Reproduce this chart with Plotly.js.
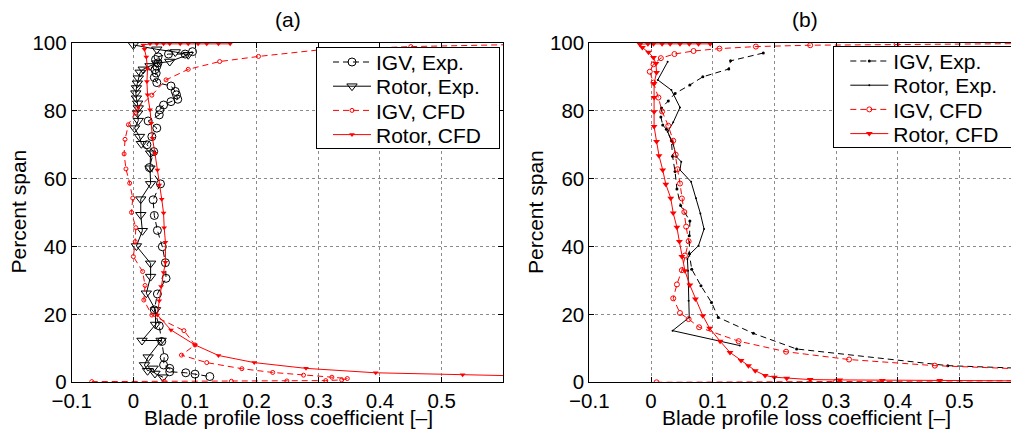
<!DOCTYPE html>
<html>
<head>
<meta charset="utf-8">
<script src="https://cdn.plot.ly/plotly-3.0.1.min.js"></script>
<style>html,body{margin:0;padding:0;background:#fff;}#chart{width:1011px;height:430px;}</style>
</head>
<body>
<div id="chart"></div>
<script>
// ---------- Panel (a) ----------
const a_igvExp_x = [0.096,0.084,0.057,0.040,0.036,0.040,0.038,0.035,0.037,0.034,0.038,0.061,0.068,0.070,0.072,0.061,0.049,0.043,0.042,0.024,0.038,0.030,0.022,0.033,0.026,0.044,0.032,0.034,0.039,0.047,0.052,0.053,0.039,0.034,0.042,0.046,0.050,0.049,0.059,0.059,0.085,0.100,0.124];
const a_igvExp_y = [97.3,96.6,96.6,95.8,95.0,94.0,93.0,92.0,91.0,89.7,88.2,87.2,85.6,84.6,83.3,82.6,81.6,80.2,78.7,76.9,74.8,72.3,69.9,67.9,63.2,58.4,53.7,49.1,44.7,39.9,35.2,30.6,26.0,21.3,16.6,12.0,7.3,5.1,4.1,3.1,2.8,2.4,1.7];

const a_rotExp_x = [0.000,0.038,0.068,0.089,0.059,0.038,0.027,0.016,0.011,0.008,0.0065,0.005,0.004,0.005,0.007,0.008,0.007,0.008,0.002,0.010,0.013,0.028,0.027,0.028,0.012,0.012,0.0146,0.005,0.028,0.028,0.021,0.036,0.036,0.014,0.045,0.024,0.018,0.023,0.032,0.035,0.048];
const a_rotExp_y = [99.3,98.0,97.2,96.4,94.4,93.9,93.1,92.1,91.2,89.5,88.0,86.6,85.1,83.6,82.1,80.7,79.2,77.0,74.8,72.3,70.2,67.4,63.0,58.4,53.9,49.3,44.6,40.1,35.0,31.1,26.2,21.3,17.0,12.3,12.3,7.4,5.1,3.4,4.1,2.6,1.5];

const a_igvCfd_x = [-0.0675,0.050,0.159,0.249,0.312,0.338,0.347,0.322,0.276,0.226,0.176,0.119,0.078,0.100,0.082,0.030,0.017,0.019,0.015,0.000,0.003,0.004,-0.003,-0.001,-0.006,-0.012,-0.015,-0.0135,-0.008,0.003,0.007,0.030,0.053,0.089,0.140,0.203,0.300,0.450,0.620];
const a_igvCfd_y = [0.2,0.3,0.3,0.4,0.5,0.7,1.1,1.5,2.1,2.9,4.0,5.8,8.0,11.0,15.2,19.8,24.2,28.5,32.6,37.0,41.4,45.5,50.0,54.2,58.6,62.8,67.2,71.5,75.8,79.2,80.7,84.5,89.0,92.1,94.4,95.9,97.8,98.8,99.4];

const a_rotCfd_x = [0.620,0.534,0.393,0.280,0.196,0.138,0.100,0.061,0.039,0.042,0.045,0.049,0.052,0.052,0.050,0.049,0.046,0.042,0.039,0.035,0.031,0.029,0.027,0.023,0.022,0.023,0.021,0.018,0.016,0.027,0.038,0.049,0.059,0.076,0.089,0.105,0.119,0.138,0.157];
const a_rotCfd_y = [1.9,2.2,2.8,4.1,5.8,7.9,11.0,15.4,19.8,24.0,28.2,32.3,35.3,41.2,45.5,49.8,53.9,58.1,62.5,67.4,71.8,76.2,80.2,84.6,88.5,92.2,95.7,98.0,99.3,99.6,99.6,99.6,99.6,99.6,99.6,99.6,99.6,99.6,99.6];

// ---------- Panel (b) ----------
const b_igvExp_x = [0.182,0.129,0.126,0.084,0.063,0.039,0.028,0.017,0.016,0.019,0.025,0.033,0.035,0.039,0.042,0.048,0.063,0.062,0.062,0.066,0.081,0.098,0.109,0.166,0.236,0.481,0.620];
const b_igvExp_y = [96.9,94.6,92.2,89.9,87.5,85.0,82.8,80.7,78.1,75.7,74.5,71.1,66.5,62.0,56.9,52.0,47.5,43.1,37.9,33.3,28.4,23.5,19.1,14.4,9.8,4.9,4.0];

const b_rotExp_x = [0.027,0.011,0.033,0.047,0.036,0.027,0.036,0.041,0.049,0.047,0.065,0.073,0.080,0.086,0.077,0.063,0.059,0.060,0.061,0.062,0.035,0.144];
const b_rotExp_y = [94.3,89.0,86.0,80.9,76.5,73.7,70.1,66.4,64.9,62.5,59.0,54.2,49.7,45.1,40.2,37.7,36.3,32.8,24.0,19.1,15.2,10.8];

const b_igvCfd_x = [0.009,0.300,0.650,0.650,0.460,0.321,0.219,0.142,0.078,0.061,0.047,0.036,0.042,0.050,0.055,0.061,0.057,0.054,0.050,0.047,0.043,0.040,0.036,0.028,0.018,0.012,0.004,-0.002,0.004,0.016,0.038,0.069,0.111,0.170,0.258,0.398,0.620];
const b_igvCfd_y = [0.0,0.2,0.5,3.6,4.9,6.7,9.0,12.1,16.2,18.6,20.4,24.7,28.8,33.0,37.3,41.5,45.8,50.1,54.1,58.5,62.7,67.0,71.1,75.5,79.7,83.8,88.2,91.4,93.6,95.4,96.6,97.5,98.2,98.8,99.2,99.5,99.7];

const b_rotCfd_x = [0.620,0.468,0.375,0.306,0.258,0.220,0.200,0.185,0.169,0.158,0.146,0.128,0.112,0.095,0.084,0.072,0.063,0.055,0.050,0.046,0.042,0.036,0.032,0.024,0.019,0.013,0.009,0.005,0.005,0.005,0.005,0.009,0.008,0.004,-0.004,-0.014,-0.018,-0.005,0.004,0.018,0.031,0.047,0.062,0.077,0.096];
const b_rotCfd_y = [0.4,0.5,0.5,0.7,0.8,1.2,1.5,2.0,3.4,4.9,6.4,8.8,12.1,15.9,19.6,24.5,28.6,32.8,37.0,41.4,45.6,49.8,54.2,58.3,62.5,66.7,70.9,75.3,79.6,83.8,87.9,91.2,93.8,95.6,97.1,98.5,99.5,99.6,99.6,99.6,99.6,99.6,99.6,99.6,99.6];

const seriesNames = ["IGV, Exp.", "Rotor, Exp.", "IGV, CFD", "Rotor, CFD"];
const panelTitles = ["(a)", "(b)"];
const xTicks = [-0.1, 0, 0.1, 0.2, 0.3, 0.4, 0.5];
const yTicks = [0, 20, 40, 60, 80, 100];
const xTitle = "Blade profile loss coefficient [–]";
const yTitle = "Percent span";

const FONT = "Liberation Sans, Arial, Helvetica, sans-serif";
const FS = 20.5;
const FT = 21;
const DASH = "6px,4px";

function tr(x, y, name, color, dash, sym, size, xa, ya, leg, lw) {
  return {
    type: "scatter", mode: "lines+markers", x: x, y: y, name: name,
    xaxis: xa, yaxis: ya, legend: leg,
    line: {color: color, width: 1, dash: dash},
    marker: {symbol: sym, size: size, color: color, line: {color: color, width: lw}},
  };
}

const data = [
  tr(a_igvExp_x, a_igvExp_y, seriesNames[0], "#000", DASH, "circle-open", 8, "x", "y", "legend", 1),
  tr(a_rotExp_x, a_rotExp_y, seriesNames[1], "#000", "solid", "triangle-down-open", 9, "x", "y", "legend", 1),
  tr(a_igvCfd_x, a_igvCfd_y, seriesNames[2], "#ff0000", DASH, "circle-open", 4, "x", "y", "legend", 1),
  tr(a_rotCfd_x, a_rotCfd_y, seriesNames[3], "#ff0000", "solid", "triangle-down", 5, "x", "y", "legend", 0),
  tr(b_igvExp_x, b_igvExp_y, seriesNames[0], "#000", DASH, "circle", 3, "x2", "y2", "legend2", 0),
  tr(b_rotExp_x, b_rotExp_y, seriesNames[1], "#000", "solid", "circle", 2, "x2", "y2", "legend2", 0),
  tr(b_igvCfd_x, b_igvCfd_y, seriesNames[2], "#ff0000", DASH, "circle-open", 5, "x2", "y2", "legend2", 1),
  tr(b_rotCfd_x, b_rotCfd_y, seriesNames[3], "#ff0000", "solid", "triangle-down", 6, "x2", "y2", "legend2", 0),
];

const W = 1011, H = 430;
const yDom = [1 - 382.3 / H, 1 - 42.5 / H];

function xAxis(dom, range, anchor) {
  return {
    domain: dom, range: range, anchor: anchor,
    tickvals: xTicks, ticktext: xTicks.map(v => v < 0 ? "\u2212" + Math.abs(v) : String(v)),
    ticks: "inside", ticklen: 5, tickcolor: "#000",
    showline: true, linecolor: "#000", linewidth: 1, mirror: "ticks",
    showgrid: true, gridcolor: "#8c8c8c", griddash: "dot", gridwidth: 1,
    zeroline: false, tickfont: {family: FONT, size: FS, color: "#000"},
    automargin: false,
  };
}
function yAxis(anchor, mirror) {
  return {
    domain: yDom, range: [0, 100], anchor: anchor,
    tickvals: yTicks, ticks: "inside", ticklen: 5, tickcolor: "#000",
    showline: true, linecolor: "#000", linewidth: 1, mirror: mirror,
    showgrid: true, gridcolor: "#8c8c8c", griddash: "dot", gridwidth: 1,
    zeroline: false, tickfont: {family: FONT, size: FS, color: "#000"},
    automargin: false,
  };
}

const legendBase = {
  xanchor: "left", yanchor: "top", bgcolor: "#fff", bordercolor: "#000", borderwidth: 1,
  font: {family: FONT, size: FT, color: "#000"}, itemwidth: 38, tracegroupgap: 0,
};

function ann(text, xpx, ypx, angle) {
  return {text: text, xref: "paper", yref: "paper", x: xpx / W, y: 1 - ypx / H, showarrow: false,
          xanchor: "center", yanchor: "middle", textangle: angle || 0,
          font: {family: FONT, size: FT, color: "#000"}};
}

const layout = {
  width: W, height: H,
  margin: {l: 0, r: 0, t: 0, b: 0, autoexpand: false},
  paper_bgcolor: "#fff", plot_bgcolor: "#fff",
  font: {family: FONT, size: FS, color: "#000"},
  xaxis: xAxis([71.7 / W, 503.3 / W], [-0.1, 0.6], "y"),
  yaxis: yAxis("x", "ticks"),
  xaxis2: xAxis([589.3 / W, 1], [-0.1, 0.5835], "y2"),
  yaxis2: yAxis("x2", false),
  legend: Object.assign({x: 316 / W, y: 1 - 46.7 / H}, legendBase),
  legend2: Object.assign({x: 833.3 / W, y: 1 - 45.7 / H}, legendBase),
  annotations: [
    ann(panelTitles[0], 287.5, 19),
    ann(panelTitles[1], 805, 19),
    ann(xTitle, 288.5, 417.5),
    ann(xTitle, 806, 417.5),
    ann(yTitle, 17.5, 212, -90),
    ann(yTitle, 535, 212, -90),
  ],
  showlegend: true,
};

Plotly.newPlot("chart", data, layout, {displayModeBar: false, staticPlot: true}).then(function (gd) {
  // tighten legend rows to match the reference's row spacing and box size
  try {
    ["legend", "legend2"].forEach(function (id) {
      const g = gd.querySelector("g." + id);
      if (!g) return;
      g.querySelectorAll("[clip-path]").forEach(function (el) { el.removeAttribute("clip-path"); });
      if (g.hasAttribute("clip-path")) g.removeAttribute("clip-path");
      const items = g.querySelectorAll("g.traces");
      items.forEach(function (it, i) {
        const m = /translate\(\s*([-\d.]+)[ ,]+([-\d.]+)/.exec(it.getAttribute("transform") || "");
        const x0 = m ? parseFloat(m[1]) : 0;
        it.setAttribute("transform", "translate(" + (x0 + 11) + "," + (15.3 + i * 24.2) + ")");
      });
      const bg = g.querySelector("rect.bg");
      if (bg) { bg.setAttribute("height", 101.6); bg.setAttribute("width", 183); }
    });
  } catch (e) {}
});
</script>
</body>
</html>
